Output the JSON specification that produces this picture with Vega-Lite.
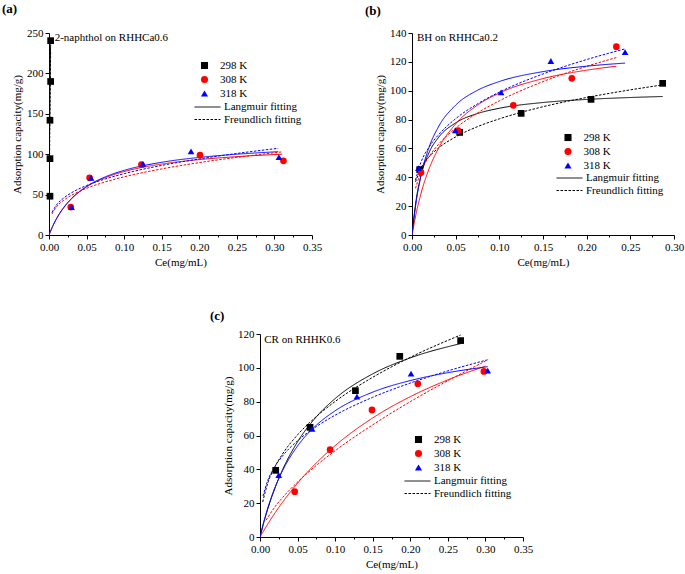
{
  "$schema": "https://vega.github.io/schema/vega-lite/v6.json",
  "padding": {"left": 2, "top": 3, "right": 2, "bottom": 2},
  "background": "white",
  "datasets": {
    "points": [
      {"p":"a","T":"298 K","x":0.0022,"y":240.5},{"p":"a","T":"298 K","x":0.0022,"y":190},{"p":"a","T":"298 K","x":0.0013,"y":142},{"p":"a","T":"298 K","x":0.0013,"y":94.5},{"p":"a","T":"298 K","x":0.0013,"y":48},
      {"p":"a","T":"308 K","x":0.029,"y":34.6},{"p":"a","T":"308 K","x":0.054,"y":70.8},{"p":"a","T":"308 K","x":0.123,"y":87},{"p":"a","T":"308 K","x":0.201,"y":98.8},{"p":"a","T":"308 K","x":0.312,"y":91.8},
      {"p":"a","T":"318 K","x":0.030,"y":34.6},{"p":"a","T":"318 K","x":0.056,"y":70.8},{"p":"a","T":"318 K","x":0.125,"y":88},{"p":"a","T":"318 K","x":0.189,"y":103.4},{"p":"a","T":"318 K","x":0.306,"y":96.4},
      {"p":"b","T":"298 K","x":0.0088,"y":45.3},{"p":"b","T":"298 K","x":0.0546,"y":71.1},{"p":"b","T":"298 K","x":0.125,"y":84.3},{"p":"b","T":"298 K","x":0.205,"y":94.0},{"p":"b","T":"298 K","x":0.287,"y":105.1},
      {"p":"b","T":"308 K","x":0.0103,"y":43.4},{"p":"b","T":"308 K","x":0.0527,"y":72.3},{"p":"b","T":"308 K","x":0.116,"y":89.9},{"p":"b","T":"308 K","x":0.183,"y":108.6},{"p":"b","T":"308 K","x":0.234,"y":130.5},
      {"p":"b","T":"318 K","x":0.0073,"y":46.4},{"p":"b","T":"318 K","x":0.0496,"y":72.5},{"p":"b","T":"318 K","x":0.102,"y":98.9},{"p":"b","T":"318 K","x":0.159,"y":120.6},{"p":"b","T":"318 K","x":0.244,"y":126.8},
      {"p":"c","T":"298 K","x":0.0209,"y":39.4},{"p":"c","T":"298 K","x":0.0666,"y":64.8},{"p":"c","T":"298 K","x":0.127,"y":86.5},{"p":"c","T":"298 K","x":0.186,"y":106.8},{"p":"c","T":"298 K","x":0.267,"y":116.1},
      {"p":"c","T":"308 K","x":0.0462,"y":26.8},{"p":"c","T":"308 K","x":0.0933,"y":51.6},{"p":"c","T":"308 K","x":0.149,"y":75.1},{"p":"c","T":"308 K","x":0.210,"y":90.6},{"p":"c","T":"308 K","x":0.298,"y":97.9},
      {"p":"c","T":"318 K","x":0.0249,"y":36.6},{"p":"c","T":"318 K","x":0.0693,"y":64.0},{"p":"c","T":"318 K","x":0.129,"y":83.0},{"p":"c","T":"318 K","x":0.201,"y":96.6},{"p":"c","T":"318 K","x":0.303,"y":98.3}
    ],
    "curves": [
      {"p":"a","T":"298 K","m":"Langmuir fitting","x":0,"y":0},{"p":"a","T":"298 K","m":"Langmuir fitting","x":0.0003,"y":60},{"p":"a","T":"298 K","m":"Langmuir fitting","x":0.0006,"y":110},{"p":"a","T":"298 K","m":"Langmuir fitting","x":0.001,"y":155},{"p":"a","T":"298 K","m":"Langmuir fitting","x":0.0015,"y":200},{"p":"a","T":"298 K","m":"Langmuir fitting","x":0.0022,"y":236},
      {"p":"a","T":"298 K","m":"Freundlich fitting","x":0.0003,"y":45},{"p":"a","T":"298 K","m":"Freundlich fitting","x":0.0008,"y":100},{"p":"a","T":"298 K","m":"Freundlich fitting","x":0.0015,"y":170},{"p":"a","T":"298 K","m":"Freundlich fitting","x":0.0022,"y":228},
      {"p":"a","T":"308 K","m":"Langmuir fitting","x":0,"y":0},{"p":"a","T":"308 K","m":"Langmuir fitting","x":0.005,"y":11.16},{"p":"a","T":"308 K","m":"Langmuir fitting","x":0.01,"y":20.35},{"p":"a","T":"308 K","m":"Langmuir fitting","x":0.02,"y":34.58},{"p":"a","T":"308 K","m":"Langmuir fitting","x":0.03,"y":45.09},{"p":"a","T":"308 K","m":"Langmuir fitting","x":0.05,"y":59.58},{"p":"a","T":"308 K","m":"Langmuir fitting","x":0.075,"y":70.98},{"p":"a","T":"308 K","m":"Langmuir fitting","x":0.1,"y":78.49},{"p":"a","T":"308 K","m":"Langmuir fitting","x":0.15,"y":87.78},{"p":"a","T":"308 K","m":"Langmuir fitting","x":0.2,"y":93.3},{"p":"a","T":"308 K","m":"Langmuir fitting","x":0.25,"y":96.96},{"p":"a","T":"308 K","m":"Langmuir fitting","x":0.31,"y":100.0},
      {"p":"a","T":"318 K","m":"Langmuir fitting","x":0,"y":0},{"p":"a","T":"318 K","m":"Langmuir fitting","x":0.005,"y":10.91},{"p":"a","T":"318 K","m":"Langmuir fitting","x":0.01,"y":20},{"p":"a","T":"318 K","m":"Langmuir fitting","x":0.02,"y":34.29},{"p":"a","T":"318 K","m":"Langmuir fitting","x":0.03,"y":45},{"p":"a","T":"318 K","m":"Langmuir fitting","x":0.05,"y":60},{"p":"a","T":"318 K","m":"Langmuir fitting","x":0.075,"y":72},{"p":"a","T":"318 K","m":"Langmuir fitting","x":0.1,"y":80},{"p":"a","T":"318 K","m":"Langmuir fitting","x":0.15,"y":90},{"p":"a","T":"318 K","m":"Langmuir fitting","x":0.2,"y":96},{"p":"a","T":"318 K","m":"Langmuir fitting","x":0.25,"y":100},{"p":"a","T":"318 K","m":"Langmuir fitting","x":0.305,"y":103.1},
      {"p":"a","T":"308 K","m":"Freundlich fitting","x":0.004,"y":26.0},{"p":"a","T":"308 K","m":"Freundlich fitting","x":0.01,"y":34.8},{"p":"a","T":"308 K","m":"Freundlich fitting","x":0.02,"y":43.3},{"p":"a","T":"308 K","m":"Freundlich fitting","x":0.03,"y":49.2},{"p":"a","T":"308 K","m":"Freundlich fitting","x":0.05,"y":57.8},{"p":"a","T":"308 K","m":"Freundlich fitting","x":0.075,"y":65.7},{"p":"a","T":"308 K","m":"Freundlich fitting","x":0.1,"y":72.0},{"p":"a","T":"308 K","m":"Freundlich fitting","x":0.15,"y":81.8},{"p":"a","T":"308 K","m":"Freundlich fitting","x":0.2,"y":89.6},{"p":"a","T":"308 K","m":"Freundlich fitting","x":0.25,"y":96.1},{"p":"a","T":"308 K","m":"Freundlich fitting","x":0.31,"y":102.9},
      {"p":"a","T":"318 K","m":"Freundlich fitting","x":0.004,"y":28.0},{"p":"a","T":"318 K","m":"Freundlich fitting","x":0.01,"y":37.2},{"p":"a","T":"318 K","m":"Freundlich fitting","x":0.02,"y":46.1},{"p":"a","T":"318 K","m":"Freundlich fitting","x":0.03,"y":52.3},{"p":"a","T":"318 K","m":"Freundlich fitting","x":0.05,"y":61.2},{"p":"a","T":"318 K","m":"Freundlich fitting","x":0.075,"y":69.4},{"p":"a","T":"318 K","m":"Freundlich fitting","x":0.1,"y":75.9},{"p":"a","T":"318 K","m":"Freundlich fitting","x":0.15,"y":86.1},{"p":"a","T":"318 K","m":"Freundlich fitting","x":0.2,"y":94.1},{"p":"a","T":"318 K","m":"Freundlich fitting","x":0.25,"y":100.9},{"p":"a","T":"318 K","m":"Freundlich fitting","x":0.305,"y":107.3},
      {"p":"b","T":"298 K","m":"Langmuir fitting","x":0,"y":0},{"p":"b","T":"298 K","m":"Langmuir fitting","x":0.005,"y":25.26},{"p":"b","T":"298 K","m":"Langmuir fitting","x":0.01,"y":40.41},{"p":"b","T":"298 K","m":"Langmuir fitting","x":0.02,"y":57.74},{"p":"b","T":"298 K","m":"Langmuir fitting","x":0.03,"y":67.34},{"p":"b","T":"298 K","m":"Langmuir fitting","x":0.05,"y":77.7},{"p":"b","T":"298 K","m":"Langmuir fitting","x":0.075,"y":84.17},{"p":"b","T":"298 K","m":"Langmuir fitting","x":0.1,"y":87.83},{"p":"b","T":"298 K","m":"Langmuir fitting","x":0.15,"y":91.82},{"p":"b","T":"298 K","m":"Langmuir fitting","x":0.2,"y":93.96},{"p":"b","T":"298 K","m":"Langmuir fitting","x":0.25,"y":95.29},{"p":"b","T":"298 K","m":"Langmuir fitting","x":0.287,"y":95.99},
      {"p":"b","T":"298 K","m":"Freundlich fitting","x":0.004,"y":36.8},{"p":"b","T":"298 K","m":"Freundlich fitting","x":0.01,"y":46.0},{"p":"b","T":"298 K","m":"Freundlich fitting","x":0.02,"y":54.5},{"p":"b","T":"298 K","m":"Freundlich fitting","x":0.03,"y":60.1},{"p":"b","T":"298 K","m":"Freundlich fitting","x":0.05,"y":68.0},{"p":"b","T":"298 K","m":"Freundlich fitting","x":0.075,"y":75.1},{"p":"b","T":"298 K","m":"Freundlich fitting","x":0.1,"y":80.5},{"p":"b","T":"298 K","m":"Freundlich fitting","x":0.15,"y":88.9},{"p":"b","T":"298 K","m":"Freundlich fitting","x":0.2,"y":95.3},{"p":"b","T":"298 K","m":"Freundlich fitting","x":0.25,"y":100.6},{"p":"b","T":"298 K","m":"Freundlich fitting","x":0.287,"y":104.0},
      {"p":"b","T":"308 K","m":"Langmuir fitting","x":0,"y":0},{"p":"b","T":"308 K","m":"Langmuir fitting","x":0.005,"y":15.67},{"p":"b","T":"308 K","m":"Langmuir fitting","x":0.01,"y":28.1},{"p":"b","T":"308 K","m":"Langmuir fitting","x":0.02,"y":46.59},{"p":"b","T":"308 K","m":"Langmuir fitting","x":0.03,"y":59.68},{"p":"b","T":"308 K","m":"Langmuir fitting","x":0.05,"y":76.98},{"p":"b","T":"308 K","m":"Langmuir fitting","x":0.075,"y":90.03},{"p":"b","T":"308 K","m":"Langmuir fitting","x":0.1,"y":98.37},{"p":"b","T":"308 K","m":"Langmuir fitting","x":0.15,"y":108.4},{"p":"b","T":"308 K","m":"Langmuir fitting","x":0.2,"y":114.23},{"p":"b","T":"308 K","m":"Langmuir fitting","x":0.234,"y":116.97},
      {"p":"b","T":"308 K","m":"Freundlich fitting","x":0.004,"y":32.3},{"p":"b","T":"308 K","m":"Freundlich fitting","x":0.01,"y":43.6},{"p":"b","T":"308 K","m":"Freundlich fitting","x":0.02,"y":54.8},{"p":"b","T":"308 K","m":"Freundlich fitting","x":0.03,"y":62.6},{"p":"b","T":"308 K","m":"Freundlich fitting","x":0.05,"y":74.0},{"p":"b","T":"308 K","m":"Freundlich fitting","x":0.075,"y":84.6},{"p":"b","T":"308 K","m":"Freundlich fitting","x":0.1,"y":93.0},{"p":"b","T":"308 K","m":"Freundlich fitting","x":0.15,"y":106.3},{"p":"b","T":"308 K","m":"Freundlich fitting","x":0.2,"y":116.9},{"p":"b","T":"308 K","m":"Freundlich fitting","x":0.234,"y":123.0},
      {"p":"b","T":"318 K","m":"Langmuir fitting","x":0,"y":0},{"p":"b","T":"318 K","m":"Langmuir fitting","x":0.005,"y":23.88},{"p":"b","T":"318 K","m":"Langmuir fitting","x":0.01,"y":40.34},{"p":"b","T":"318 K","m":"Langmuir fitting","x":0.02,"y":61.58},{"p":"b","T":"318 K","m":"Langmuir fitting","x":0.03,"y":74.68},{"p":"b","T":"318 K","m":"Langmuir fitting","x":0.05,"y":90.0},{"p":"b","T":"318 K","m":"Langmuir fitting","x":0.075,"y":100.29},{"p":"b","T":"318 K","m":"Langmuir fitting","x":0.1,"y":106.36},{"p":"b","T":"318 K","m":"Langmuir fitting","x":0.15,"y":113.23},{"p":"b","T":"318 K","m":"Langmuir fitting","x":0.2,"y":117.0},{"p":"b","T":"318 K","m":"Langmuir fitting","x":0.244,"y":119.15},
      {"p":"b","T":"318 K","m":"Freundlich fitting","x":0.004,"y":38.1},{"p":"b","T":"318 K","m":"Freundlich fitting","x":0.01,"y":50.0},{"p":"b","T":"318 K","m":"Freundlich fitting","x":0.02,"y":61.4},{"p":"b","T":"318 K","m":"Freundlich fitting","x":0.03,"y":69.2},{"p":"b","T":"318 K","m":"Freundlich fitting","x":0.05,"y":80.6},{"p":"b","T":"318 K","m":"Freundlich fitting","x":0.075,"y":90.9},{"p":"b","T":"318 K","m":"Freundlich fitting","x":0.1,"y":99.0},{"p":"b","T":"318 K","m":"Freundlich fitting","x":0.15,"y":111.6},{"p":"b","T":"318 K","m":"Freundlich fitting","x":0.2,"y":121.6},{"p":"b","T":"318 K","m":"Freundlich fitting","x":0.244,"y":129.0},
      {"p":"c","T":"298 K","m":"Langmuir fitting","x":0,"y":0},{"p":"c","T":"298 K","m":"Langmuir fitting","x":0.005,"y":8.49},{"p":"c","T":"298 K","m":"Langmuir fitting","x":0.01,"y":16.07},{"p":"c","T":"298 K","m":"Langmuir fitting","x":0.02,"y":29.03},{"p":"c","T":"298 K","m":"Langmuir fitting","x":0.03,"y":39.71},{"p":"c","T":"298 K","m":"Langmuir fitting","x":0.05,"y":56.25},{"p":"c","T":"298 K","m":"Langmuir fitting","x":0.075,"y":71.05},{"p":"c","T":"298 K","m":"Langmuir fitting","x":0.1,"y":81.82},{"p":"c","T":"298 K","m":"Langmuir fitting","x":0.15,"y":96.43},{"p":"c","T":"298 K","m":"Langmuir fitting","x":0.2,"y":105.88},{"p":"c","T":"298 K","m":"Langmuir fitting","x":0.267,"y":114.33},
      {"p":"c","T":"298 K","m":"Freundlich fitting","x":0.0036,"y":20.7},{"p":"c","T":"298 K","m":"Freundlich fitting","x":0.01,"y":31.4},{"p":"c","T":"298 K","m":"Freundlich fitting","x":0.02,"y":41.6},{"p":"c","T":"298 K","m":"Freundlich fitting","x":0.03,"y":49.1},{"p":"c","T":"298 K","m":"Freundlich fitting","x":0.05,"y":60.4},{"p":"c","T":"298 K","m":"Freundlich fitting","x":0.075,"y":71.2},{"p":"c","T":"298 K","m":"Freundlich fitting","x":0.1,"y":80.1},{"p":"c","T":"298 K","m":"Freundlich fitting","x":0.15,"y":94.4},{"p":"c","T":"298 K","m":"Freundlich fitting","x":0.2,"y":106.2},{"p":"c","T":"298 K","m":"Freundlich fitting","x":0.267,"y":119.4},
      {"p":"c","T":"308 K","m":"Langmuir fitting","x":0,"y":0},{"p":"c","T":"308 K","m":"Langmuir fitting","x":0.01,"y":7.42},{"p":"c","T":"308 K","m":"Langmuir fitting","x":0.02,"y":14.24},{"p":"c","T":"308 K","m":"Langmuir fitting","x":0.03,"y":20.54},{"p":"c","T":"308 K","m":"Langmuir fitting","x":0.05,"y":31.81},{"p":"c","T":"308 K","m":"Langmuir fitting","x":0.075,"y":43.8},{"p":"c","T":"308 K","m":"Langmuir fitting","x":0.1,"y":54.0},{"p":"c","T":"308 K","m":"Langmuir fitting","x":0.15,"y":70.38},{"p":"c","T":"308 K","m":"Langmuir fitting","x":0.2,"y":82.94},{"p":"c","T":"308 K","m":"Langmuir fitting","x":0.25,"y":92.91},{"p":"c","T":"308 K","m":"Langmuir fitting","x":0.3,"y":101.0},
      {"p":"c","T":"308 K","m":"Freundlich fitting","x":0.008,"y":9.9},{"p":"c","T":"308 K","m":"Freundlich fitting","x":0.02,"y":17.9},{"p":"c","T":"308 K","m":"Freundlich fitting","x":0.03,"y":23.3},{"p":"c","T":"308 K","m":"Freundlich fitting","x":0.05,"y":32.5},{"p":"c","T":"308 K","m":"Freundlich fitting","x":0.075,"y":42.3},{"p":"c","T":"308 K","m":"Freundlich fitting","x":0.1,"y":51.0},{"p":"c","T":"308 K","m":"Freundlich fitting","x":0.15,"y":66.3},{"p":"c","T":"308 K","m":"Freundlich fitting","x":0.2,"y":80.0},{"p":"c","T":"308 K","m":"Freundlich fitting","x":0.25,"y":92.4},{"p":"c","T":"308 K","m":"Freundlich fitting","x":0.3,"y":104.0},
      {"p":"c","T":"318 K","m":"Langmuir fitting","x":0,"y":0},{"p":"c","T":"318 K","m":"Langmuir fitting","x":0.005,"y":8.94},{"p":"c","T":"318 K","m":"Langmuir fitting","x":0.01,"y":16.65},{"p":"c","T":"318 K","m":"Langmuir fitting","x":0.02,"y":29.3},{"p":"c","T":"318 K","m":"Langmuir fitting","x":0.03,"y":39.22},{"p":"c","T":"318 K","m":"Langmuir fitting","x":0.05,"y":53.8},{"p":"c","T":"318 K","m":"Langmuir fitting","x":0.075,"y":66.08},{"p":"c","T":"318 K","m":"Langmuir fitting","x":0.1,"y":74.6},{"p":"c","T":"318 K","m":"Langmuir fitting","x":0.15,"y":85.63},{"p":"c","T":"318 K","m":"Langmuir fitting","x":0.2,"y":92.47},{"p":"c","T":"318 K","m":"Langmuir fitting","x":0.25,"y":97.12},{"p":"c","T":"318 K","m":"Langmuir fitting","x":0.303,"y":100.67},
      {"p":"c","T":"318 K","m":"Freundlich fitting","x":0.004,"y":24.2},{"p":"c","T":"318 K","m":"Freundlich fitting","x":0.01,"y":33.0},{"p":"c","T":"318 K","m":"Freundlich fitting","x":0.02,"y":41.8},{"p":"c","T":"318 K","m":"Freundlich fitting","x":0.03,"y":47.9},{"p":"c","T":"318 K","m":"Freundlich fitting","x":0.05,"y":56.9},{"p":"c","T":"318 K","m":"Freundlich fitting","x":0.075,"y":65.3},{"p":"c","T":"318 K","m":"Freundlich fitting","x":0.1,"y":72.0},{"p":"c","T":"318 K","m":"Freundlich fitting","x":0.15,"y":82.6},{"p":"c","T":"318 K","m":"Freundlich fitting","x":0.2,"y":91.0},{"p":"c","T":"318 K","m":"Freundlich fitting","x":0.25,"y":98.2},{"p":"c","T":"318 K","m":"Freundlich fitting","x":0.305,"y":105.0}
    ],
    "labels": [
      {"p":"a","x":0.0076,"y":244,"text":"2-naphthol on RHHCa0.6"},
      {"p":"b","x":0.0057,"y":136.5,"text":"BH on RHHCa0.2"},
      {"p":"c","x":0.0057,"y":116.2,"text":"CR on RHHK0.6"}
    ]
  },
  "spacing": 43,
  "resolve": {
    "scale": {"color": "independent", "shape": "independent", "stroke": "independent", "strokeDash": "independent"},
    "legend": {"color": "independent", "shape": "independent", "stroke": "independent", "strokeDash": "independent"}
  },
  "vconcat": [
    {
      "bounds": "flush",
      "spacing": 100,
      "resolve": {
        "scale": {"color": "independent", "shape": "independent", "stroke": "independent", "strokeDash": "independent"},
        "legend": {"color": "independent", "shape": "independent", "stroke": "independent", "strokeDash": "independent"}
      },
      "hconcat": [
        {
          "width": 263, "height": 202,
          "title": {"text": "(a)", "dx": -47},
          "encoding": {
            "x": {"field": "x", "type": "quantitative", "scale": {"domain": [0, 0.35], "nice": false},
              "axis": {"title": "Ce(mg/mL)", "values": [0, 0.025, 0.05, 0.075, 0.1, 0.125, 0.15, 0.175, 0.2, 0.225, 0.25, 0.275, 0.3, 0.325, 0.35],
                "labelExpr": "abs(datum.value*20 - round(datum.value*20)) > 0.01 ? '' : format(datum.value, '.2f')",
                "tickSize": {"condition": {"test": "abs(datum.value*20 - round(datum.value*20)) > 0.01", "value": 2}, "value": 4},
                "labelOverlap": false, "labelBound": false}},
            "y": {"field": "y", "type": "quantitative", "scale": {"domain": [0, 250], "nice": false}, "axis": {"title": "Adsorption capacity(mg/g)", "values": [0, 50, 100, 150, 200, 250], "labelOverlap": false, "labelBound": false}}
          },
          "layer": [
            {
              "data": {"name": "curves"},
              "transform": [{"filter": "datum.p === 'a'"}],
              "mark": {"type": "line", "strokeWidth": 1, "interpolate": "monotone", "clip": true},
              "encoding": {
                "stroke": {"field": "T", "type": "nominal", "scale": {"domain": ["318 K", "308 K", "298 K"], "range": ["#0000ff", "#ff0000", "#000000"]}, "legend": null},
                "strokeDash": {"field": "m", "type": "nominal", "scale": {"domain": ["Langmuir fitting", "Freundlich fitting"], "range": [[1, 0], [2.5, 1.5]]},
                  "legend": {"title": null, "orient": "none", "legendX": 158, "legendY": 67, "symbolType": "M-3,0H1", "symbolSize": 169, "symbolStrokeColor": "#000000", "symbolStrokeWidth": 1, "symbolFillColor": "transparent", "labelOffset": 3, "rowPadding": 0.5, "padding": 0}}
              }
            },
            {
              "data": {"name": "points"},
              "transform": [{"filter": "datum.p === 'a'"}],
              "mark": {"type": "point", "filled": true, "size": 45, "opacity": 1},
              "encoding": {
                "color": {"field": "T", "type": "nominal", "scale": {"domain": ["298 K", "308 K", "318 K"], "range": ["#000000", "#ff0000", "#0000ff"]},
                  "legend": {"title": null, "orient": "none", "legendX": 150, "legendY": 27, "symbolSize": 50, "labelOffset": 10, "rowPadding": 2, "padding": 0}},
                "shape": {"field": "T", "type": "nominal", "scale": {"domain": ["298 K", "308 K", "318 K"], "range": ["square", "circle", "triangle-up"]},
                  "legend": {"title": null, "orient": "none", "legendX": 150, "legendY": 27, "symbolSize": 50, "labelOffset": 10, "rowPadding": 2, "padding": 0}}
              }
            },
            {
              "data": {"name": "labels"},
              "transform": [{"filter": "datum.p === 'a'"}],
              "mark": {"type": "text", "align": "left", "baseline": "middle", "font": "Liberation Serif", "fontSize": 11, "color": "#000000"},
              "encoding": {"text": {"field": "text"}}
            }
          ]
        },
        {
          "width": 262, "height": 202,
          "title": {"text": "(b)", "dx": -47, "offset": 9},
          "encoding": {
            "x": {"field": "x", "type": "quantitative", "scale": {"domain": [0, 0.3], "nice": false},
              "axis": {"title": "Ce(mg/mL)", "values": [0, 0.025, 0.05, 0.075, 0.1, 0.125, 0.15, 0.175, 0.2, 0.225, 0.25, 0.275, 0.3],
                "labelExpr": "abs(datum.value*20 - round(datum.value*20)) > 0.01 ? '' : format(datum.value, '.2f')",
                "tickSize": {"condition": {"test": "abs(datum.value*20 - round(datum.value*20)) > 0.01", "value": 2}, "value": 4},
                "labelOverlap": false, "labelBound": false}},
            "y": {"field": "y", "type": "quantitative", "scale": {"domain": [0, 140], "nice": false}, "axis": {"title": "Adsorption capacity(mg/g)", "values": [0, 20, 40, 60, 80, 100, 120, 140], "labelOverlap": false, "labelBound": false}}
          },
          "layer": [
            {
              "data": {"name": "curves"},
              "transform": [{"filter": "datum.p === 'b'"}],
              "mark": {"type": "line", "strokeWidth": 1, "interpolate": "monotone", "clip": true},
              "encoding": {
                "stroke": {"field": "T", "type": "nominal", "scale": {"domain": ["318 K", "308 K", "298 K"], "range": ["#0000ff", "#ff0000", "#000000"]}, "legend": null},
                "strokeDash": {"field": "m", "type": "nominal", "scale": {"domain": ["Langmuir fitting", "Freundlich fitting"], "range": [[1, 0], [2.5, 1.5]]},
                  "legend": {"title": null, "orient": "none", "legendX": 157, "legendY": 138, "symbolType": "M-3,0H1", "symbolSize": 169, "symbolStrokeColor": "#000000", "symbolStrokeWidth": 1, "symbolFillColor": "transparent", "labelOffset": 3, "rowPadding": 0.5, "padding": 0}}
              }
            },
            {
              "data": {"name": "points"},
              "transform": [{"filter": "datum.p === 'b'"}],
              "mark": {"type": "point", "filled": true, "size": 45, "opacity": 1},
              "encoding": {
                "color": {"field": "T", "type": "nominal", "scale": {"domain": ["298 K", "308 K", "318 K"], "range": ["#000000", "#ff0000", "#0000ff"]},
                  "legend": {"title": null, "orient": "none", "legendX": 150.5, "legendY": 99, "symbolSize": 50, "labelOffset": 10, "rowPadding": 2, "padding": 0}},
                "shape": {"field": "T", "type": "nominal", "scale": {"domain": ["298 K", "308 K", "318 K"], "range": ["square", "circle", "triangle-up"]},
                  "legend": {"title": null, "orient": "none", "legendX": 150.5, "legendY": 99, "symbolSize": 50, "labelOffset": 10, "rowPadding": 2, "padding": 0}}
              }
            },
            {
              "data": {"name": "labels"},
              "transform": [{"filter": "datum.p === 'b'"}],
              "mark": {"type": "text", "align": "left", "baseline": "middle", "font": "Liberation Serif", "fontSize": 11, "color": "#000000"},
              "encoding": {"text": {"field": "text"}}
            }
          ]
        }
      ]
    },
    {
      "bounds": "flush",
      "spacing": 100,
      "resolve": {
        "scale": {"color": "independent", "shape": "independent", "stroke": "independent", "strokeDash": "independent"},
        "legend": {"color": "independent", "shape": "independent", "stroke": "independent", "strokeDash": "independent"}
      },
      "hconcat": [
        {
          "width": 111, "height": 203,
          "data": {"values": []},
          "mark": {"type": "point", "opacity": 0}
        },
        {
          "width": 263, "height": 203,
          "title": {"text": "(c)", "dx": -50, "offset": 5},
          "encoding": {
            "x": {"field": "x", "type": "quantitative", "scale": {"domain": [0, 0.35], "nice": false},
              "axis": {"title": "Ce(mg/mL)", "values": [0, 0.025, 0.05, 0.075, 0.1, 0.125, 0.15, 0.175, 0.2, 0.225, 0.25, 0.275, 0.3, 0.325, 0.35],
                "labelExpr": "abs(datum.value*20 - round(datum.value*20)) > 0.01 ? '' : format(datum.value, '.2f')",
                "tickSize": {"condition": {"test": "abs(datum.value*20 - round(datum.value*20)) > 0.01", "value": 2}, "value": 4},
                "labelOverlap": false, "labelBound": false}},
            "y": {"field": "y", "type": "quantitative", "scale": {"domain": [0, 120], "nice": false}, "axis": {"title": "Adsorption capacity(mg/g)", "values": [0, 20, 40, 60, 80, 100, 120], "labelOverlap": false, "labelBound": false}}
          },
          "layer": [
            {
              "data": {"name": "curves"},
              "transform": [{"filter": "datum.p === 'c'"}],
              "mark": {"type": "line", "strokeWidth": 1, "interpolate": "monotone", "clip": true},
              "encoding": {
                "stroke": {"field": "T", "type": "nominal", "scale": {"domain": ["318 K", "308 K", "298 K"], "range": ["#0000ff", "#ff0000", "#000000"]}, "legend": null},
                "strokeDash": {"field": "m", "type": "nominal", "scale": {"domain": ["Langmuir fitting", "Freundlich fitting"], "range": [[1, 0], [2.5, 1.5]]},
                  "legend": {"title": null, "orient": "none", "legendX": 157, "legendY": 140, "symbolType": "M-3,0H1", "symbolSize": 169, "symbolStrokeColor": "#000000", "symbolStrokeWidth": 1, "symbolFillColor": "transparent", "labelOffset": 3, "rowPadding": 0.5, "padding": 0}}
              }
            },
            {
              "data": {"name": "points"},
              "transform": [{"filter": "datum.p === 'c'"}],
              "mark": {"type": "point", "filled": true, "size": 45, "opacity": 1},
              "encoding": {
                "color": {"field": "T", "type": "nominal", "scale": {"domain": ["298 K", "308 K", "318 K"], "range": ["#000000", "#ff0000", "#0000ff"]},
                  "legend": {"title": null, "orient": "none", "legendX": 153, "legendY": 100, "symbolSize": 50, "labelOffset": 10, "rowPadding": 2, "padding": 0}},
                "shape": {"field": "T", "type": "nominal", "scale": {"domain": ["298 K", "308 K", "318 K"], "range": ["square", "circle", "triangle-up"]},
                  "legend": {"title": null, "orient": "none", "legendX": 153, "legendY": 100, "symbolSize": 50, "labelOffset": 10, "rowPadding": 2, "padding": 0}}
              }
            },
            {
              "data": {"name": "labels"},
              "transform": [{"filter": "datum.p === 'c'"}],
              "mark": {"type": "text", "align": "left", "baseline": "middle", "font": "Liberation Serif", "fontSize": 11, "color": "#000000"},
              "encoding": {"text": {"field": "text"}}
            }
          ]
        }
      ]
    }
  ],
  "config": {
    "view": {"stroke": null},
    "font": "Liberation Serif",
    "title": {"font": "Liberation Serif", "fontSize": 13, "fontWeight": "bold", "anchor": "start", "frame": "group", "color": "#000000", "offset": 11},
    "axis": {"labelFont": "Liberation Serif", "labelFontSize": 11, "labelColor": "#000000", "titleFont": "Liberation Serif", "titleFontSize": 11, "titleFontWeight": "normal", "titleColor": "#000000", "domainColor": "#000000", "tickColor": "#000000", "tickSize": 4, "grid": false, "labelPadding": 2, "labelFlush": false, "labelOverlap": false},
    "legend": {"labelFont": "Liberation Serif", "labelFontSize": 11, "labelColor": "#000000"}
  }
}
